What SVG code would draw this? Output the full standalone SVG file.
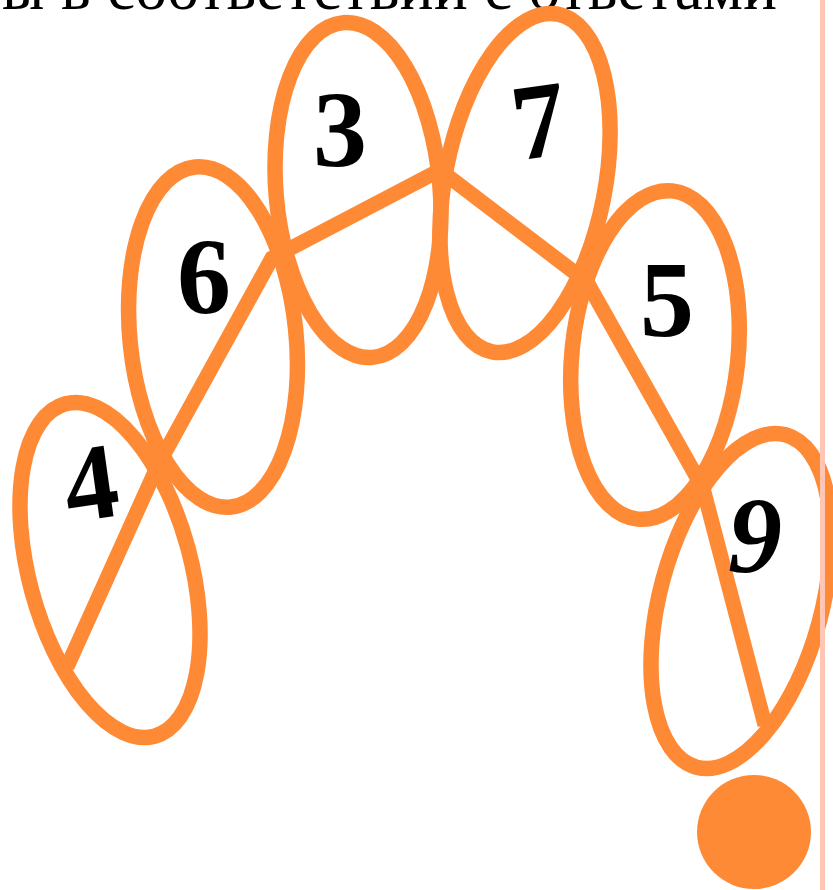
<svg xmlns="http://www.w3.org/2000/svg" width="833" height="890" viewBox="0 0 833 890">
<style>
.loop{fill:none;stroke:#FF8A36;stroke-width:15.5}
.num{font-family:"Liberation Serif","Times New Roman",serif;font-weight:bold;font-size:108px;fill:#000;text-anchor:middle}
.conn{fill:none;stroke:#FF8A36;stroke-width:15;stroke-linejoin:miter;stroke-linecap:butt}
</style>
<rect width="833" height="890" fill="#fff"/>
<text x="2" y="9" font-family="Liberation Serif, Times New Roman, serif" font-size="63" fill="#000" textLength="775" lengthAdjust="spacing">ы в соответствии с ответами</text>
<g id="node-4">
<ellipse class="loop" cx="110" cy="570" rx="81" ry="172" transform="rotate(-15 110 570)"/>
</g>
<g id="node-6">
<ellipse class="loop" cx="213" cy="337" rx="83" ry="171" transform="rotate(-6 213 337)"/>
</g>
<g id="node-3">
<ellipse class="loop" cx="358" cy="190" rx="82" ry="168" transform="rotate(-5 358 190)"/>
</g>
<g id="node-7">
<ellipse class="loop" cx="525" cy="183" rx="80" ry="172" transform="rotate(11 525 183)"/>
</g>
<g id="node-5">
<ellipse class="loop" cx="655" cy="355" rx="83" ry="165" transform="rotate(6 655 355)"/>
</g>
<g id="node-9">
<ellipse class="loop" cx="741" cy="601" rx="81" ry="172" transform="rotate(15 741 601)"/>
</g>
<g id="connectors">
<polyline class="conn" points="67,667 158,465 272,258 440,170 587,282 703,488 765,725"/>
</g>
<g id="labels">
<text class="num" x="91" y="519" transform="rotate(-8 91 485)">4</text>
<text class="num" x="204" y="313">6</text>
<text class="num" x="340" y="166">3</text>
<text class="num" x="539" y="157" transform="rotate(-8 539 120)">7</text>
<text class="num" x="667" y="336">5</text>
<text class="num" x="755" y="572" font-style="italic">9</text>
</g>
<g id="end-dot">
<circle cx="754" cy="832" r="57" fill="#FF8A36"/>
</g>
<rect x="820" y="0" width="5" height="890" fill="#FFC6B3"/>
</svg>
